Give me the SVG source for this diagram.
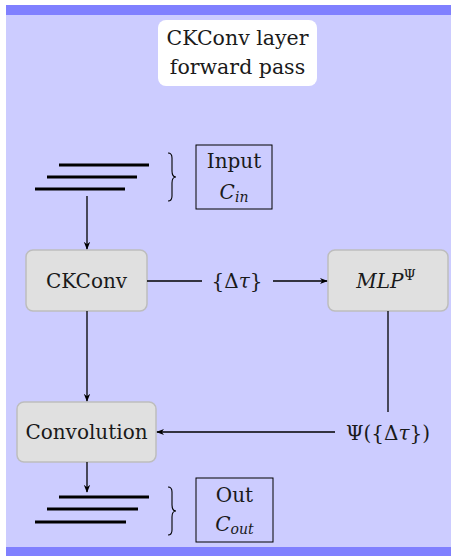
<svg xmlns="http://www.w3.org/2000/svg" width="451" height="556" viewBox="0 0 451 556">
  <style>
    text { fill: #1a1a1a; font-family: "DejaVu Serif", "Liberation Serif", serif; }
    .t { font-size: 20px; text-anchor: middle; }
    .ttl { font-size: 20.5px; text-anchor: middle; }
    .m { font-style: italic; }
    .proc { fill: #e0e0e0; stroke: #bdbdbd; stroke-width: 1.5; }
    .lbl { fill: none; stroke: #000; stroke-width: 1; }
    .bar { stroke: #000; stroke-width: 3; }
    .brace { fill: none; stroke: #000; stroke-width: 1.1; }
    .edge { fill: none; stroke: #000; stroke-width: 1.3; }
  </style>
  <defs>
    <marker id="arr" viewBox="0 0 10 10" refX="9" refY="5" markerWidth="8" markerHeight="8" markerUnits="userSpaceOnUse" orient="auto">
      <path d="M0,1 L10,5 L0,9 L3,5 Z" fill="#000"/>
    </marker>
  </defs>

  <!-- frame -->
  <rect x="6" y="5" width="445" height="551" fill="#ccccff"/>
  <rect x="6" y="5" width="445" height="10" fill="#8080ff"/>
  <rect x="6" y="547" width="445" height="9" fill="#8080ff"/>

  <g id="title">
    <rect x="158" y="20" width="159" height="66" rx="8" fill="#fff"/>
    <text class="ttl" x="237.5" y="45">CKConv layer</text>
    <text class="ttl" x="237.5" y="74">forward pass</text>
  </g>

  <g id="input">
    <line class="bar" x1="59" y1="165" x2="149" y2="165"/>
    <line class="bar" x1="47" y1="177" x2="137" y2="177"/>
    <line class="bar" x1="35" y1="189" x2="125" y2="189"/>
    <path class="brace" d="M168,153 q4,0 4,5 v13 q0,6 4,6 q-4,0 -4,6 v13 q0,5 -4,5"/>
    <rect class="lbl" x="196" y="145" width="76" height="64"/>
    <text class="t" x="234" y="168">Input</text>
    <text class="t" x="234" y="199"><tspan class="m">C</tspan><tspan class="m" font-size="14" dy="3">in</tspan></text>
  </g>

  <g id="ckconv">
    <rect class="proc" x="26" y="250" width="121" height="61" rx="7"/>
    <text class="t" x="86.5" y="288">CKConv</text>
  </g>

  <g id="mlp">
    <rect class="proc" x="328" y="250" width="120" height="61" rx="7"/>
    <text class="t" x="386" y="288"><tspan class="m">MLP</tspan><tspan font-size="14" dy="-8">Ψ</tspan></text>
  </g>

  <g id="convolution">
    <rect class="proc" x="17" y="402" width="139" height="60" rx="7"/>
    <text class="t" x="86.5" y="439">Convolution</text>
  </g>

  <g id="output">
    <line class="bar" x1="59" y1="497" x2="149" y2="497"/>
    <line class="bar" x1="47" y1="509" x2="138" y2="509"/>
    <line class="bar" x1="35" y1="522" x2="126" y2="522"/>
    <path class="brace" d="M168,487 q4,0 4,5 v13 q0,6 4,6 q-4,0 -4,6 v13 q0,5 -4,5"/>
    <rect class="lbl" x="196" y="478" width="77" height="64"/>
    <text class="t" x="234.5" y="502">Out</text>
    <text class="t" x="234.5" y="531"><tspan class="m">C</tspan><tspan class="m" font-size="14" dy="3">out</tspan></text>
  </g>

  <g id="connectors">
    <line class="edge" x1="87" y1="196" x2="87" y2="249" marker-end="url(#arr)"/>
    <line class="edge" x1="147" y1="281" x2="202" y2="281"/>
    <text class="t" x="237" y="288">{Δ<tspan class="m">τ</tspan>}</text>
    <line class="edge" x1="273" y1="281" x2="327" y2="281" marker-end="url(#arr)"/>
    <line class="edge" x1="87" y1="311" x2="87" y2="401" marker-end="url(#arr)"/>
    <line class="edge" x1="388" y1="311" x2="388" y2="412"/>
    <text class="t" x="388" y="440">Ψ({Δ<tspan class="m">τ</tspan>})</text>
    <line class="edge" x1="335" y1="432" x2="157" y2="432" marker-end="url(#arr)"/>
    <line class="edge" x1="87" y1="462" x2="87" y2="492" marker-end="url(#arr)"/>
  </g>
</svg>
